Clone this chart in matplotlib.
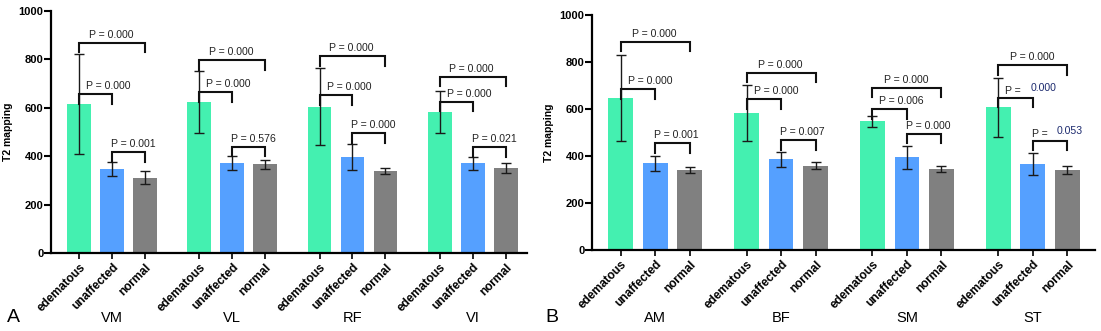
import matplotlib
matplotlib.use("Agg")
import matplotlib.pyplot as plt
from matplotlib.transforms import blended_transform_factory

plt.rcParams['font.family'] = ['Liberation Sans', 'DejaVu Sans']

categories = ["edematous", "unaffected", "normal"]
colors = ["#44F0B0", "#55A0FF", "#808080"]

groups_A = ["VM", "VL", "RF", "VI"]
mean_A = [[617, 347, 311], [624, 372, 366], [605, 398, 340], [584, 370, 351]]
sd_A = [[207, 29, 27], [128, 30, 17], [158, 53, 12], [87, 28, 20]]
bracket_A = [[869, 657, 416], [796, 664, 439], [814, 652, 495], [729, 625, 437]]
p_A = [["0.000", "0.000", "0.001"], ["0.000", "0.000", "0.576"],
       ["0.000", "0.000", "0.000"], ["0.000", "0.000", "0.021"]]

groups_B = ["AM", "BF", "SM", "ST"]
mean_B = [[645, 369, 339], [582, 386, 359], [548, 394, 345], [607, 367, 339]]
sd_B = [[183, 32, 13], [120, 33, 16], [23, 50, 14], [125, 46, 17]]
bracket_B = [[886, 684, 454], [755, 641, 467], [691, 599, 494], [786, 648, 464]]
p_B = [["0.000", "0.000", "0.001"], ["0.000", "0.000", "0.007"],
       ["0.000", "0.006", "0.000"], ["0.000", "0.000", "0.053"]]
split_B = [False, False, False, True]   # ST labels typed with a gap

yticks = [0, 200, 400, 600, 800, 1000]

W, H = 1101, 331
fig = plt.figure(figsize=(W / 100, H / 100), dpi=100)
PX = 0.72  # points per pixel


def panel(rect, groups, means, sds, brackets, pvals, split, gs, xlim, letter, letter_x):
    ax = fig.add_axes(rect)
    ax_h_px = rect[3] * H
    drop = 1000 * 9.5 / ax_h_px
    ticks, labels = [], []
    for g, name in enumerate(groups):
        xs = [g * gs + i for i in range(3)]
        ax.bar(xs, means[g], width=0.72, color=colors, edgecolor='none', zorder=2)
        ax.errorbar(xs, means[g], yerr=sds[g], fmt='none', ecolor='#1a1a1a',
                    elinewidth=1.0, capsize=3.6, capthick=1.0, zorder=3)
        ticks += xs
        labels += categories
        pairs = [(0, 2), (0, 1), (1, 2)]
        for k, (i, j) in enumerate(pairs):
            yb = brackets[g][k]
            x0, x1 = xs[i], xs[j]
            ax.plot([x0, x0, x1, x1], [yb - drop, yb, yb, yb - drop],
                    color='#111111', lw=1.5, solid_joinstyle='miter', zorder=4,
                    clip_on=False)
            lab = pvals[g][k]
            if k == 0:
                ax.annotate("P = " + lab, xy=((x0 + x1) / 2, yb), xytext=(-1 * PX, 5 * PX),
                            textcoords='offset points', ha='center', va='baseline',
                            fontsize=7.6, color='#222222', annotation_clip=False)
            else:
                dx = 7 if k == 1 else -1
                if split[g]:
                    ax.annotate("P =", xy=(x0, yb), xytext=(dx * PX, 4 * PX),
                                textcoords='offset points', ha='left', va='baseline',
                                fontsize=7.6, color='#222222', annotation_clip=False)
                    ax.annotate(lab, xy=(x0, yb), xytext=((dx + 25) * PX, 7 * PX),
                                textcoords='offset points', ha='left', va='baseline',
                                fontsize=7.6, color='#1c2a6e', annotation_clip=False)
                else:
                    ax.annotate("P = " + lab, xy=(x0, yb), xytext=(dx * PX, 5 * PX),
                                textcoords='offset points', ha='left', va='baseline',
                                fontsize=7.6, color='#222222', annotation_clip=False)
        tr = blended_transform_factory(ax.transData, fig.transFigure)
        ax.text(xs[1], 0.026, name, transform=tr, ha='center', va='baseline', fontsize=10.5)

    ax.set_xlim(*xlim)
    ax.set_ylim(0, 1000)
    ax.set_yticks(yticks)
    ax.set_yticklabels([str(v) for v in yticks], fontsize=8, fontweight='bold')
    ax.set_xticks(ticks)
    ax.set_xticklabels(labels, rotation=45, ha='right', rotation_mode='anchor',
                       fontsize=8.6, fontweight='bold')
    ax.tick_params(axis='y', length=5, width=1.5, pad=0.5)
    ax.tick_params(axis='x', length=4, width=1.2, pad=2)
    for s in ['top', 'right']:
        ax.spines[s].set_visible(False)
    for s in ['left', 'bottom']:
        ax.spines[s].set_linewidth(1.6)
    ax.set_ylabel("T2 mapping", fontsize=7.5, fontweight='bold', labelpad=4)
    fig.text(letter_x, 0.026, letter, fontsize=14, ha='left', va='baseline')
    return ax


panel([51 / W, 78 / H, 476 / W, 242 / H], groups_A, mean_A, sd_A, bracket_A, p_A,
      [False] * 4, 3.645, (-0.85, 13.58), "A", 7 / W)
panel([592 / W, 81 / H, 503 / W, 235 / H], groups_B, mean_B, sd_B, bracket_B, p_B,
      split_B, 3.65, (-0.83, 13.75), "B", 545 / W)

fig.savefig("out.png", dpi=100)
